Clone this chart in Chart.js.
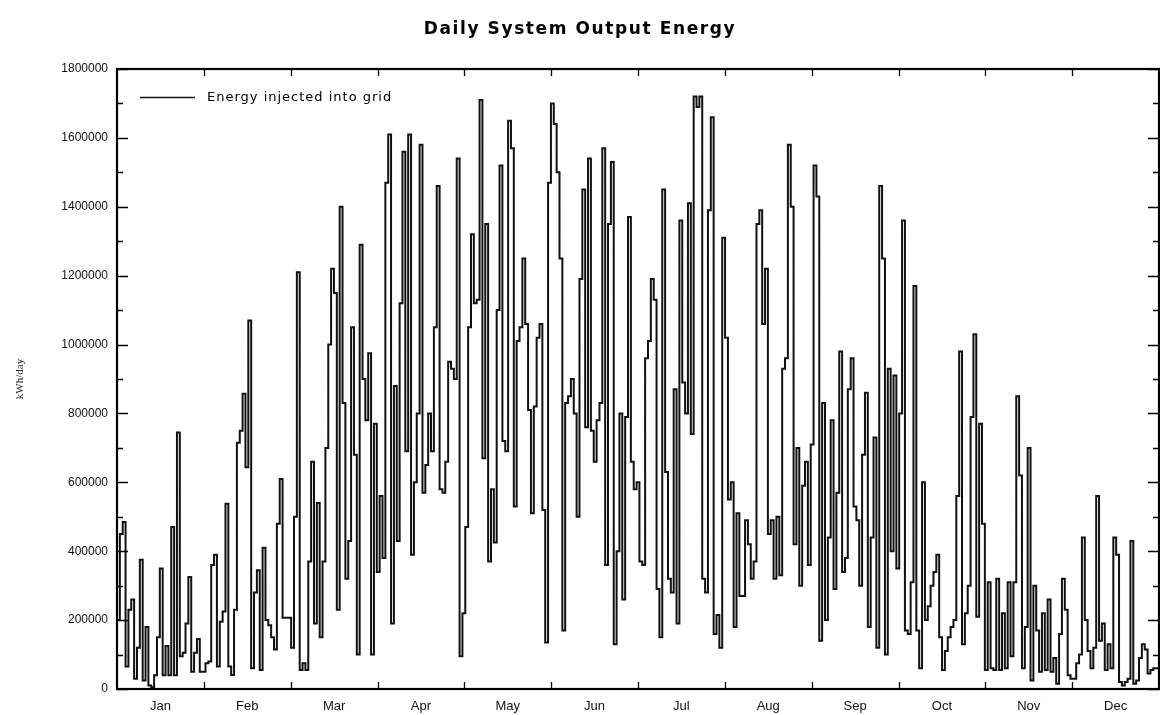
<!DOCTYPE html>
<html>
<head>
<meta charset="utf-8">
<script src="https://cdn.jsdelivr.net/npm/chart.js@4/dist/chart.umd.min.js"></script>
<style>
  html, body { margin: 0; padding: 0; background: #fff; }
  canvas { display: block; }
</style>
</head>
<body>
<canvas id="c" width="1160" height="715"></canvas>
<script>
// ---- data (kWh/day, one value per day) ----
const monthNames = ['Jan','Feb','Mar','Apr','May','Jun','Jul','Aug','Sep','Oct','Nov','Dec'];
const jan = [65000, 200000, 450000, 485000, 65000, 230000, 260000, 30000, 120000, 375000, 25000, 180000, 10000, 5000, 40000, 150000, 350000, 40000, 125000, 40000, 470000, 40000, 745000, 95000, 105000, 190000, 325000, 50000, 105000, 145000, 50000];
const feb = [50000, 75000, 80000, 360000, 390000, 65000, 195000, 225000, 538000, 65000, 41000, 230000, 715000, 750000, 857000, 644000, 1070000, 60000, 280000, 345000, 55000, 410000, 200000, 185000, 150000, 115000, 480000, 610000, 207000, 207000, 207000];
const mar = [120000, 500000, 1210000, 55000, 75000, 55000, 370000, 660000, 190000, 540000, 150000, 370000, 700000, 1000000, 1220000, 1150000, 230000, 1400000, 830000, 320000, 430000, 1050000, 680000, 100000, 1290000, 900000, 780000, 975000, 100000, 770000];
const apr = [340000, 560000, 380000, 1470000, 1610000, 190000, 880000, 430000, 1120000, 1560000, 690000, 1610000, 390000, 600000, 800000, 1580000, 570000, 650000, 800000, 690000, 1050000, 1460000, 580000, 570000, 660000, 950000, 930000, 900000, 1540000, 95000, 220000, 470000];
const may = [1050000, 1320000, 1120000, 1130000, 1710000, 670000, 1350000, 370000, 580000, 425000, 1100000, 1520000, 720000, 690000, 1650000, 1570000, 530000, 1010000, 1050000, 1250000, 1060000, 810000, 510000, 820000, 1020000, 1060000, 520000, 135000, 1470000, 1700000];
const jun = [1640000, 1500000, 1250000, 170000, 830000, 850000, 900000, 800000, 500000, 1190000, 1450000, 760000, 1540000, 750000, 660000, 780000, 830000, 1570000, 360000, 1350000, 1530000, 130000, 400000, 800000, 260000, 790000, 1370000, 660000, 580000, 600000, 370000];
const jul = [360000, 960000, 1010000, 1190000, 1130000, 290000, 150000, 1450000, 630000, 320000, 280000, 870000, 190000, 1360000, 890000, 800000, 1410000, 740000, 1720000, 1690000, 1720000, 320000, 280000, 1390000, 1660000, 160000, 215000, 120000, 1310000, 1020000, 550000];
const aug = [600000, 180000, 510000, 270000, 270000, 490000, 420000, 320000, 370000, 1350000, 1390000, 1060000, 1220000, 450000, 490000, 320000, 500000, 330000, 930000, 960000, 1580000, 1400000, 420000, 700000, 300000, 590000, 660000, 360000, 710000, 1520000];
const sep = [1430000, 140000, 830000, 200000, 440000, 780000, 290000, 570000, 980000, 340000, 380000, 870000, 960000, 530000, 490000, 300000, 680000, 860000, 180000, 440000, 730000, 120000, 1460000, 1250000, 100000, 930000, 400000, 910000, 350000, 800000];
const oct = [1360000, 170000, 160000, 310000, 1170000, 170000, 60000, 600000, 200000, 240000, 300000, 340000, 390000, 150000, 55000, 110000, 150000, 180000, 200000, 560000, 980000, 130000, 220000, 300000, 790000, 1030000, 210000, 770000, 480000, 55000, 310000, 60000, 55000];
const nov = [320000, 55000, 220000, 60000, 310000, 95000, 310000, 850000, 620000, 60000, 180000, 700000, 25000, 300000, 170000, 50000, 220000, 55000, 260000, 50000, 90000, 15000, 160000, 320000, 230000, 40000, 30000];
const dec = [30000, 75000, 100000, 440000, 200000, 110000, 60000, 120000, 560000, 140000, 190000, 55000, 130000, 60000, 440000, 390000, 20000, 10000, 20000, 30000, 430000, 15000, 25000, 90000, 130000, 115000, 45000, 55000, 60000];
const yMax = 1800000, yStep = 200000, yMinor = 100000;

const energy = [...jan, ...feb, ...mar, ...apr, ...may, ...jun, ...jul, ...aug, ...sep, ...oct, ...nov, ...dec];
const nDays = energy.length;
const monthLen = nDays / 12;
const points = energy.map((v, i) => ({ x: i, y: v }));
points.push({ x: nDays, y: energy[nDays - 1] });

const FONT = 'Liberation Sans, Arial, sans-serif';
const WIDE = 'DejaVu Sans, Verdana, sans-serif';

// frame, inward tick marks and the in-plot legend
const frameTicks = {
  id: 'frameTicks',
  afterDraw(chart) {
    const { ctx, chartArea: a, scales: { x, y } } = chart;
    ctx.save();
    ctx.strokeStyle = '#000';
    ctx.lineWidth = 1.3;
    ctx.beginPath();
    for (let v = 0; v <= yMax; v += yMinor) {
      const py = Math.round(y.getPixelForValue(v)) + 0.5;
      const len = (v % yStep === 0) ? 11 : 6;
      ctx.moveTo(a.left, py); ctx.lineTo(a.left + len, py);
      ctx.moveTo(a.right, py); ctx.lineTo(a.right - len, py);
    }
    for (let i = 1; i < 12; i++) {
      const px = Math.round(x.getPixelForValue(i * monthLen)) + 0.5;
      ctx.moveTo(px, a.top); ctx.lineTo(px, a.top + 7);
      ctx.moveTo(px, a.bottom); ctx.lineTo(px, a.bottom - 7);
    }
    ctx.stroke();
    ctx.lineWidth = 2.2;
    ctx.strokeRect(a.left, a.top, a.right - a.left, a.bottom - a.top);

    // legend
    const ds = chart.data.datasets[0];
    const ly = a.top + 28.5;
    ctx.lineWidth = 1.5;
    ctx.strokeStyle = ds.borderColor;
    ctx.beginPath();
    ctx.moveTo(a.left + 23, ly); ctx.lineTo(a.left + 78, ly);
    ctx.stroke();
    ctx.fillStyle = '#000';
    ctx.font = '13px ' + WIDE;
    ctx.textBaseline = 'middle';
    ctx.textAlign = 'left';
    try { ctx.letterSpacing = '1px'; } catch (e) {}
    ctx.fillText(ds.label, a.left + 90, ly);
    ctx.restore();
  }
};

const chart = new Chart(document.getElementById('c'), {
  type: 'line',
  data: {
    datasets: [{
      label: 'Energy injected into grid',
      data: points,
      stepped: 'after',
      borderColor: '#111',
      backgroundColor: '#111',
      borderWidth: 2,
      pointRadius: 0,
      fill: false
    }]
  },
  options: {
    responsive: false,
    animation: false,
    events: [],
    layout: { padding: { left: 0, right: 0, top: 0, bottom: 0 } },
    plugins: {
      title: {
        display: true,
        text: 'Daily System Output Energy',
        color: '#000',
        font: { family: WIDE, size: 17, weight: 'bold' },
        padding: { top: 19, bottom: 29.6 }
      },
      legend: { display: false },
      tooltip: { enabled: false }
    },
    scales: {
      x: {
        type: 'linear',
        min: 0,
        max: nDays,
        grid: { display: false, drawTicks: false },
        border: { display: false },
        afterBuildTicks: (s) => { s.ticks = monthNames.map((m, i) => ({ value: (i + 0.5) * monthLen })); },
        afterFit: (s) => { s.height = 26; },
        ticks: {
          autoSkip: false,
          maxRotation: 0,
          padding: 10,
          color: '#111',
          font: { family: FONT, size: 13 },
          callback: (v, i) => monthNames[i]
        }
      },
      y: {
        min: 0,
        max: yMax,
        grid: { display: false, drawTicks: false },
        border: { display: false },
        afterFit: (s) => { s.width = 117; },
        title: {
          display: true,
          text: 'kWh/day',
          color: '#222',
          padding: { top: 14, bottom: 0 },
          font: { family: 'Liberation Serif, Times New Roman, serif', size: 11 }
        },
        ticks: {
          stepSize: yStep,
          padding: 9,
          color: '#111',
          font: { family: FONT, size: 12 },
          callback: (v) => String(v)
        }
      }
    }
  },
  plugins: [frameTicks]
});

// widen the title slightly to match the reference's wide title
const tb = chart.titleBlock;
if (tb) {
  const origDraw = tb.draw.bind(tb);
  tb.draw = function () {
    const c = this.ctx;
    c.save();
    try { c.letterSpacing = '1.6px'; } catch (e) {}
    origDraw();
    c.restore();
  };
  chart.update('none');
}
</script>
</body>
</html>
